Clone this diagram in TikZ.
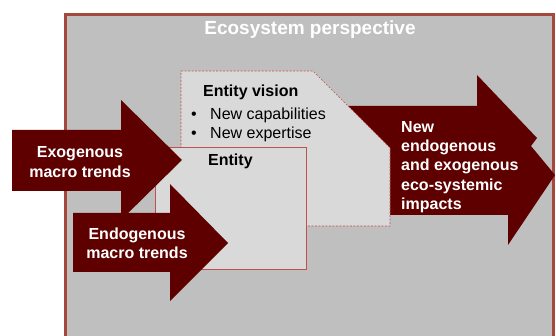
\documentclass[tikz,border=0pt]{standalone}
\usepackage{fontspec}
\setmainfont{Liberation Sans}
\definecolor{arrowred}{HTML}{5E0000}
\definecolor{bggray}{HTML}{BFBFBF}
\definecolor{boxgray}{HTML}{D9D9D9}
\definecolor{framered}{HTML}{A3483B}
\definecolor{linered}{HTML}{C0504D}
\begin{document}
\begin{tikzpicture}[x=1pt,y=-1pt,
  bigarrow/.style={fill=arrowred, draw=none},
  arrowtext/.style={text=white, font=\fontsize{16}{19.3}\selectfont\bfseries, inner sep=0pt},
  plaintext/.style={text=black, font=\fontsize{16}{19}\selectfont, inner sep=0pt, anchor=base west}]
\useasboundingbox (0,0) rectangle (556,336);
\fill[white] (0,0) rectangle (556,336);
% outer frame
\draw[framered, line width=3pt, fill=bggray] (65.5,14.5) rectangle (553,350);
\node[text=white, font=\fontsize{19}{22}\selectfont\bfseries, inner sep=0pt] (title) at (310,30) {Ecosystem perspective};
% right arrow (behind vision)
\fill[arrowred] (340,106) -- (477,106) -- (477,75) -- (537,138) -- (531,146) -- (555,175) -- (508,245) -- (508,215) -- (340,215) -- cycle;
% entity vision
\draw[linered, dashed, line width=0.6pt, fill=boxgray, dash pattern=on 2pt off 1.5pt] (181,71) -- (313,71) -- (390,148) -- (390,226) -- (181,226) -- cycle;
\node[font=\fontsize{16}{19}\selectfont\bfseries, inner sep=0pt, anchor=base west] (vision) at (203,97) {Entity vision};
\node[plaintext] (cap) at (210,120) {New capabilities};
\node[plaintext] (exp) at (210,139) {New expertise};
\node[plaintext, anchor=base] (b1) at (194,120) {\textbullet};
\node[plaintext, anchor=base] (b2) at (194,139) {\textbullet};
% entity box
\draw[linered, line width=0.8pt, fill=boxgray] (155,147) rectangle (306,269);
\node[font=\fontsize{16}{19}\selectfont\bfseries, inner sep=0pt, anchor=base west] (entity) at (208,166) {Entity};
% exogenous arrow
\fill[arrowred] (12,130) -- (121,130) -- (121,100) -- (182,160) -- (121,220) -- (121,191) -- (12,191) -- cycle;
\node[arrowtext, align=center] (exo) at (80,162) {Exogenous\\macro trends};
% endogenous arrow
\fill[arrowred] (73,213) -- (170,213) -- (170,184) -- (228,243) -- (170,301) -- (170,272) -- (73,272) -- cycle;
\node[arrowtext, align=center] (endo) at (137,243) {Endogenous\\macro trends};
% right arrow text
\node[arrowtext, align=left, anchor=north west] (impacts) at (401,121) {New\\endogenous\\and exogenous\\eco-systemic\\impacts};
\end{tikzpicture}
\end{document}
